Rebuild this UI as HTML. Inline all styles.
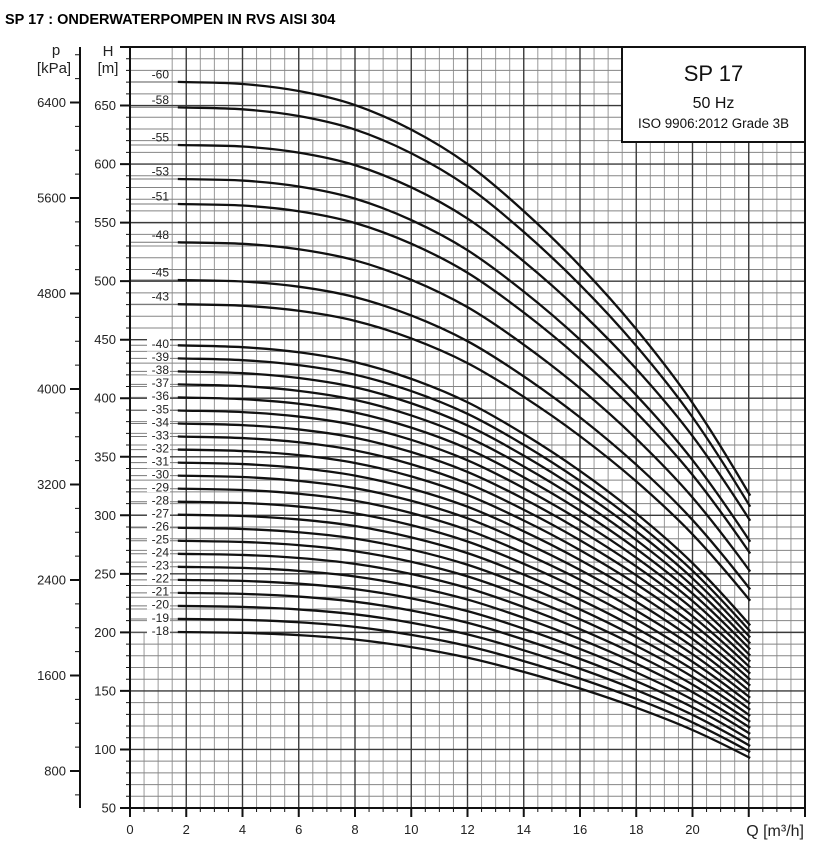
<!DOCTYPE html>
<html><head><meta charset="utf-8"><style>
html,body{margin:0;padding:0;background:#fff;}
svg{display:block;}
text{font-family:"Liberation Sans",Arial,sans-serif;}
</style></head><body>
<svg width="839" height="850" viewBox="0 0 839 850" xmlns="http://www.w3.org/2000/svg">
<rect width="839" height="850" fill="#fff"/>
<text x="5" y="24" font-size="14.5" font-weight="bold" fill="#000">SP 17 : ONDERWATERPOMPEN IN RVS AISI 304</text>

<!-- grid minor vertical -->
<path fill="none" stroke="#999" stroke-width="1" d="M172.19 47V808M200.31 47V808M214.38 47V808M228.44 47V808M256.56 47V808M270.63 47V808M284.69 47V808M312.81 47V808M326.88 47V808M340.94 47V808M369.06 47V808M383.13 47V808M397.19 47V808M425.31 47V808M439.38 47V808M453.44 47V808M481.56 47V808M495.63 47V808M509.69 47V808M537.81 47V808M551.88 47V808M565.94 47V808M594.06 47V808M608.13 47V808M622.19 47V808M650.31 47V808M664.38 47V808M678.44 47V808M706.56 47V808M720.63 47V808M734.69 47V808M762.81 47V808M776.88 47V808M790.94 47V808M144.06 632V808M158.13 632V808"/>
<!-- grid minor horizontal -->
<path fill="none" stroke="#858585" stroke-width="1" d="M130 796.29H805M130 784.58H805M130 772.88H805M130 761.17H805M130 737.75H805M130 726.05H805M130 714.34H805M130 702.63H805M130 679.22H805M130 667.51H805M130 655.8H805M130 644.09H805M130 620.68H805M130 608.97H805M130 597.26H805M130 585.55H805M130 562.14H805M130 550.43H805M130 538.72H805M130 527.02H805M130 503.6H805M130 491.89H805M130 480.18H805M130 468.48H805M130 445.06H805M130 433.35H805M130 421.65H805M130 409.94H805M130 386.52H805M130 374.82H805M130 363.11H805M130 351.4H805M130 327.99H805M130 316.28H805M130 304.57H805M130 292.86H805M130 269.45H805M130 257.74H805M130 246.03H805M130 234.32H805M130 210.91H805M130 199.2H805M130 187.49H805M130 175.79H805M130 152.37H805M130 140.66H805M130 128.96H805M130 117.25H805M130 93.83H805M130 82.12H805M130 70.42H805M130 58.71H805"/>
<!-- grid major -->
<path fill="none" stroke="#3a3a3a" stroke-width="1.4" d="M186.25 47V808M242.5 47V808M298.75 47V808M355 47V808M411.25 47V808M467.5 47V808M523.75 47V808M580 47V808M636.25 47V808M692.5 47V808M748.75 47V808M130 749.46H805M130 690.92H805M130 632.38H805M130 573.85H805M130 515.31H805M130 456.77H805M130 398.23H805M130 339.69H805M130 281.15H805M130 222.62H805M130 164.08H805M130 105.54H805"/>

<!-- leader lines -->
<path fill="none" stroke="#777" stroke-width="1" d="M130 81.9H178M130 107.3H178M130 145H178M130 179H178M130 204H178M130 242.3H178M130 280H178M130 304.2H178M130 345.3H178M130 358.4H178M130 371.4H178M130 384.4H178M130 397.4H178M130 410.5H178M130 423.5H178M130 436.5H178M130 449.6H178M130 462.6H178M130 475.6H178M130 488.7H178M130 501.7H178M130 514.7H178M130 527.8H178M130 540.8H178M130 553.8H178M130 566.8H178M130 579.9H178M130 592.9H178M130 605.9H178M130 619H178M130 632H178"/>

<!-- legend box -->
<rect x="622" y="47" width="183" height="95" fill="#fff" stroke="#111" stroke-width="2"/>
<text x="713.5" y="81" font-size="22" text-anchor="middle" fill="#111">SP 17</text>
<text x="713.5" y="108" font-size="16" text-anchor="middle" fill="#111">50 Hz</text>
<text x="713.5" y="128" font-size="13.4" text-anchor="middle" fill="#111">ISO 9906:2012 Grade 3B</text>

<!-- axes frame -->
<path fill="none" stroke="#111" stroke-width="2" d="M120 47H805V817M130 47V817M120 808H805M80 47V808"/>
<!-- H ticks -->
<path fill="none" stroke="#111" stroke-width="1" d="M126 796.29H130M126 784.58H130M126 772.88H130M126 761.17H130M126 737.75H130M126 726.05H130M126 714.34H130M126 702.63H130M126 679.22H130M126 667.51H130M126 655.8H130M126 644.09H130M126 620.68H130M126 608.97H130M126 597.26H130M126 585.55H130M126 562.14H130M126 550.43H130M126 538.72H130M126 527.02H130M126 503.6H130M126 491.89H130M126 480.18H130M126 468.48H130M126 445.06H130M126 433.35H130M126 421.65H130M126 409.94H130M126 386.52H130M126 374.82H130M126 363.11H130M126 351.4H130M126 327.99H130M126 316.28H130M126 304.57H130M126 292.86H130M126 269.45H130M126 257.74H130M126 246.03H130M126 234.32H130M126 210.91H130M126 199.2H130M126 187.49H130M126 175.79H130M126 152.37H130M126 140.66H130M126 128.96H130M126 117.25H130M126 93.83H130M126 82.12H130M126 70.42H130M126 58.71H130"/>
<path fill="none" stroke="#111" stroke-width="2" d="M120 808H130M120 749.46H130M120 690.92H130M120 632.38H130M120 573.85H130M120 515.31H130M120 456.77H130M120 398.23H130M120 339.69H130M120 281.15H130M120 222.62H130M120 164.08H130M120 105.54H130"/>
<!-- X ticks -->
<path fill="none" stroke="#111" stroke-width="1" d="M144.06 808V812M158.13 808V812M172.19 808V812M200.31 808V812M214.38 808V812M228.44 808V812M256.56 808V812M270.63 808V812M284.69 808V812M312.81 808V812M326.88 808V812M340.94 808V812M369.06 808V812M383.13 808V812M397.19 808V812M425.31 808V812M439.38 808V812M453.44 808V812M481.56 808V812M495.63 808V812M509.69 808V812M537.81 808V812M551.88 808V812M565.94 808V812M594.06 808V812M608.13 808V812M622.19 808V812M650.31 808V812M664.38 808V812M678.44 808V812M706.56 808V812M720.63 808V812M734.69 808V812M762.81 808V812M776.88 808V812M790.94 808V812"/>
<path fill="none" stroke="#111" stroke-width="2" d="M186.25 808V817M242.5 808V817M298.75 808V817M355 808V817M411.25 808V817M467.5 808V817M523.75 808V817M580 808V817M636.25 808V817M692.5 808V817M748.75 808V817"/>
<!-- p ticks -->
<path fill="none" stroke="#111" stroke-width="1" d="M75 794.91H80M75 747.16H80M75 723.28H80M75 699.4H80M75 651.65H80M75 627.77H80M75 603.9H80M75 556.14H80M75 532.27H80M75 508.39H80M75 460.64H80M75 436.76H80M75 412.88H80M75 365.13H80M75 341.25H80M75 317.38H80M75 269.62H80M75 245.75H80M75 221.87H80M75 174.12H80M75 150.24H80M75 126.36H80M75 78.61H80M75 54.73H80"/>
<path fill="none" stroke="#111" stroke-width="2" d="M70 771.03H80M70 675.53H80M70 580.02H80M70 484.51H80M70 389.01H80M70 293.5H80M70 197.99H80M70 102.49H80"/>

<!-- axis labels -->
<g font-size="15" fill="#222" text-anchor="middle">
<text x="56" y="55">p</text>
<text x="54" y="73">[kPa]</text>
<text x="108" y="56">H</text>
<text x="108" y="73">[m]</text>
</g>
<g font-size="13" fill="#222" text-anchor="end">
<text x="66" y="775.5">800</text>
<text x="66" y="680">1600</text>
<text x="66" y="584.5">2400</text>
<text x="66" y="489">3200</text>
<text x="66" y="393.5">4000</text>
<text x="66" y="298">4800</text>
<text x="66" y="202.5">5600</text>
<text x="66" y="107">6400</text>
<text x="116" y="812.5">50</text>
<text x="116" y="754">100</text>
<text x="116" y="695.4">150</text>
<text x="116" y="636.9">200</text>
<text x="116" y="578.3">250</text>
<text x="116" y="519.8">300</text>
<text x="116" y="461.3">350</text>
<text x="116" y="402.7">400</text>
<text x="116" y="344.2">450</text>
<text x="116" y="285.6">500</text>
<text x="116" y="227.1">550</text>
<text x="116" y="168.6">600</text>
<text x="116" y="110">650</text>
</g>
<g font-size="13" fill="#222" text-anchor="middle">
<text x="130" y="834">0</text>
<text x="186.25" y="834">2</text>
<text x="242.5" y="834">4</text>
<text x="298.75" y="834">6</text>
<text x="355" y="834">8</text>
<text x="411.25" y="834">10</text>
<text x="467.5" y="834">12</text>
<text x="523.75" y="834">14</text>
<text x="580" y="834">16</text>
<text x="636.25" y="834">18</text>
<text x="692.5" y="834">20</text>
</g>
<text x="804" y="836" font-size="16" fill="#222" text-anchor="end">Q [m³/h]</text>

<!-- dense label backgrounds -->
<g fill="#fff">
<rect x="147" y="338.3" width="23" height="10.5"/><rect x="147" y="351.4" width="23" height="10.5"/><rect x="147" y="364.4" width="23" height="10.5"/><rect x="147" y="377.4" width="23" height="10.5"/><rect x="147" y="390.4" width="23" height="10.5"/><rect x="147" y="403.5" width="23" height="10.5"/><rect x="147" y="416.5" width="23" height="10.5"/><rect x="147" y="429.5" width="23" height="10.5"/><rect x="147" y="442.6" width="23" height="10.5"/><rect x="147" y="455.6" width="23" height="10.5"/><rect x="147" y="468.6" width="23" height="10.5"/><rect x="147" y="481.7" width="23" height="10.5"/><rect x="147" y="494.7" width="23" height="10.5"/><rect x="147" y="507.7" width="23" height="10.5"/><rect x="147" y="520.8" width="23" height="10.5"/><rect x="147" y="533.8" width="23" height="10.5"/><rect x="147" y="546.8" width="23" height="10.5"/><rect x="147" y="559.8" width="23" height="10.5"/><rect x="147" y="572.9" width="23" height="10.5"/><rect x="147" y="585.9" width="23" height="10.5"/><rect x="147" y="598.9" width="23" height="10.5"/><rect x="147" y="612" width="23" height="10.5"/><rect x="147" y="625" width="23" height="10.5"/>
</g>
<!-- stage labels -->
<g font-size="12" fill="#222" text-anchor="end">
<text x="169" y="78.4">-60</text>
<text x="169" y="103.8">-58</text>
<text x="169" y="141.5">-55</text>
<text x="169" y="175.5">-53</text>
<text x="169" y="200.5">-51</text>
<text x="169" y="238.8">-48</text>
<text x="169" y="276.5">-45</text>
<text x="169" y="300.7">-43</text>
<text x="169" y="348.1">-40</text>
<text x="169" y="361.2">-39</text>
<text x="169" y="374.2">-38</text>
<text x="169" y="387.2">-37</text>
<text x="169" y="400.2">-36</text>
<text x="169" y="413.3">-35</text>
<text x="169" y="426.3">-34</text>
<text x="169" y="439.3">-33</text>
<text x="169" y="452.4">-32</text>
<text x="169" y="465.4">-31</text>
<text x="169" y="478.4">-30</text>
<text x="169" y="491.5">-29</text>
<text x="169" y="504.5">-28</text>
<text x="169" y="517.5">-27</text>
<text x="169" y="530.6">-26</text>
<text x="169" y="543.6">-25</text>
<text x="169" y="556.6">-24</text>
<text x="169" y="569.6">-23</text>
<text x="169" y="582.7">-22</text>
<text x="169" y="595.7">-21</text>
<text x="169" y="608.7">-20</text>
<text x="169" y="621.8">-19</text>
<text x="169" y="634.8">-18</text>
</g>

<!-- curves -->
<g fill="none" stroke="#111" stroke-width="2.3" stroke-linecap="butt">
<path vector-effect="non-scaling-stroke" transform="matrix(1,0,0,-70.246,0,866.54)" d="M177.8 11.17C199.37 11.16 222.34 11.162 242.5 11.14C262.66 11.118 280 11.09 298.75 11.04C317.5 10.99 336.25 10.932 355 10.84C373.75 10.748 392.5 10.63 411.25 10.49C430 10.35 448.75 10.193 467.5 10C486.25 9.807 505 9.572 523.75 9.33C542.5 9.088 561.25 8.83 580 8.55C598.75 8.27 617.5 7.975 636.25 7.65C655 7.325 673.51 6.995 692.5 6.6C711.49 6.205 730.97 5.747 750.2 5.28"/>
<path vector-effect="non-scaling-stroke" transform="matrix(1,-0.001048,0,-67.905,0,866.03)" d="M177.8 11.17C199.37 11.16 222.34 11.162 242.5 11.14C262.66 11.118 280 11.09 298.75 11.04C317.5 10.99 336.25 10.932 355 10.84C373.75 10.748 392.5 10.63 411.25 10.49C430 10.35 448.75 10.193 467.5 10C486.25 9.807 505 9.572 523.75 9.33C542.5 9.088 561.25 8.83 580 8.55C598.75 8.27 617.5 7.975 636.25 7.65C655 7.325 673.51 6.995 692.5 6.6C711.49 6.205 730.97 5.747 750.2 5.28"/>
<path vector-effect="non-scaling-stroke" transform="matrix(1,-0.006115,0,-64.392,0,865.33)" d="M177.8 11.17C199.37 11.16 222.34 11.162 242.5 11.14C262.66 11.118 280 11.09 298.75 11.04C317.5 10.99 336.25 10.932 355 10.84C373.75 10.748 392.5 10.63 411.25 10.49C430 10.35 448.75 10.193 467.5 10C486.25 9.807 505 9.572 523.75 9.33C542.5 9.088 561.25 8.83 580 8.55C598.75 8.27 617.5 7.975 636.25 7.65C655 7.325 673.51 6.995 692.5 6.6C711.49 6.205 730.97 5.747 750.2 5.28"/>
<path vector-effect="non-scaling-stroke" transform="matrix(1,-0.004892,0,-62.051,0,873.01)" d="M177.8 11.17C199.37 11.16 222.34 11.162 242.5 11.14C262.66 11.118 280 11.09 298.75 11.04C317.5 10.99 336.25 10.932 355 10.84C373.75 10.748 392.5 10.63 411.25 10.49C430 10.35 448.75 10.193 467.5 10C486.25 9.807 505 9.572 523.75 9.33C542.5 9.088 561.25 8.83 580 8.55C598.75 8.27 617.5 7.975 636.25 7.65C655 7.325 673.51 6.995 692.5 6.6C711.49 6.205 730.97 5.747 750.2 5.28"/>
<path vector-effect="non-scaling-stroke" transform="matrix(1,-0.003843,0,-59.709,0,871.62)" d="M177.8 11.17C199.37 11.16 222.34 11.162 242.5 11.14C262.66 11.118 280 11.09 298.75 11.04C317.5 10.99 336.25 10.932 355 10.84C373.75 10.748 392.5 10.63 411.25 10.49C430 10.35 448.75 10.193 467.5 10C486.25 9.807 505 9.572 523.75 9.33C542.5 9.088 561.25 8.83 580 8.55C598.75 8.27 617.5 7.975 636.25 7.65C655 7.325 673.51 6.995 692.5 6.6C711.49 6.205 730.97 5.747 750.2 5.28"/>
<path vector-effect="non-scaling-stroke" transform="matrix(1,-0.003145,0,-56.197,0,870.6)" d="M177.8 11.17C199.37 11.16 222.34 11.162 242.5 11.14C262.66 11.118 280 11.09 298.75 11.04C317.5 10.99 336.25 10.932 355 10.84C373.75 10.748 392.5 10.63 411.25 10.49C430 10.35 448.75 10.193 467.5 10C486.25 9.807 505 9.572 523.75 9.33C542.5 9.088 561.25 8.83 580 8.55C598.75 8.27 617.5 7.975 636.25 7.65C655 7.325 673.51 6.995 692.5 6.6C711.49 6.205 730.97 5.747 750.2 5.28"/>
<path vector-effect="non-scaling-stroke" transform="matrix(1,-0.001747,0,-52.685,0,868.85)" d="M177.8 11.17C199.37 11.16 222.34 11.162 242.5 11.14C262.66 11.118 280 11.09 298.75 11.04C317.5 10.99 336.25 10.932 355 10.84C373.75 10.748 392.5 10.63 411.25 10.49C430 10.35 448.75 10.193 467.5 10C486.25 9.807 505 9.572 523.75 9.33C542.5 9.088 561.25 8.83 580 8.55C598.75 8.27 617.5 7.975 636.25 7.65C655 7.325 673.51 6.995 692.5 6.6C711.49 6.205 730.97 5.747 750.2 5.28"/>
<path vector-effect="non-scaling-stroke" transform="matrix(1,0,0,-50.343,0,866.54)" d="M177.8 11.17C199.37 11.16 222.34 11.162 242.5 11.14C262.66 11.118 280 11.09 298.75 11.04C317.5 10.99 336.25 10.932 355 10.84C373.75 10.748 392.5 10.63 411.25 10.49C430 10.35 448.75 10.193 467.5 10C486.25 9.807 505 9.572 523.75 9.33C542.5 9.088 561.25 8.83 580 8.55C598.75 8.27 617.5 7.975 636.25 7.65C655 7.325 673.51 6.995 692.5 6.6C711.49 6.205 730.97 5.747 750.2 5.28"/>
<path vector-effect="non-scaling-stroke" transform="matrix(1,0.007362,0,-46.831,0,867.104)" d="M177.8 11.17C199.37 11.16 222.34 11.162 242.5 11.14C262.66 11.118 280 11.09 298.75 11.04C317.5 10.99 336.25 10.932 355 10.84C373.75 10.748 392.5 10.63 411.25 10.49C430 10.35 448.75 10.193 467.5 10C486.25 9.807 505 9.572 523.75 9.33C542.5 9.088 561.25 8.83 580 8.55C598.75 8.27 617.5 7.975 636.25 7.65C655 7.325 673.51 6.995 692.5 6.6C711.49 6.205 730.97 5.747 750.2 5.28"/>
<path vector-effect="non-scaling-stroke" transform="matrix(1,0.007178,0,-45.66,0,867.09)" d="M177.8 11.17C199.37 11.16 222.34 11.162 242.5 11.14C262.66 11.118 280 11.09 298.75 11.04C317.5 10.99 336.25 10.932 355 10.84C373.75 10.748 392.5 10.63 411.25 10.49C430 10.35 448.75 10.193 467.5 10C486.25 9.807 505 9.572 523.75 9.33C542.5 9.088 561.25 8.83 580 8.55C598.75 8.27 617.5 7.975 636.25 7.65C655 7.325 673.51 6.995 692.5 6.6C711.49 6.205 730.97 5.747 750.2 5.28"/>
<path vector-effect="non-scaling-stroke" transform="matrix(1,0.006994,0,-44.489,0,867.076)" d="M177.8 11.17C199.37 11.16 222.34 11.162 242.5 11.14C262.66 11.118 280 11.09 298.75 11.04C317.5 10.99 336.25 10.932 355 10.84C373.75 10.748 392.5 10.63 411.25 10.49C430 10.35 448.75 10.193 467.5 10C486.25 9.807 505 9.572 523.75 9.33C542.5 9.088 561.25 8.83 580 8.55C598.75 8.27 617.5 7.975 636.25 7.65C655 7.325 673.51 6.995 692.5 6.6C711.49 6.205 730.97 5.747 750.2 5.28"/>
<path vector-effect="non-scaling-stroke" transform="matrix(1,0.00681,0,-43.318,0,867.062)" d="M177.8 11.17C199.37 11.16 222.34 11.162 242.5 11.14C262.66 11.118 280 11.09 298.75 11.04C317.5 10.99 336.25 10.932 355 10.84C373.75 10.748 392.5 10.63 411.25 10.49C430 10.35 448.75 10.193 467.5 10C486.25 9.807 505 9.572 523.75 9.33C542.5 9.088 561.25 8.83 580 8.55C598.75 8.27 617.5 7.975 636.25 7.65C655 7.325 673.51 6.995 692.5 6.6C711.49 6.205 730.97 5.747 750.2 5.28"/>
<path vector-effect="non-scaling-stroke" transform="matrix(1,0.006626,0,-42.148,0,867.047)" d="M177.8 11.17C199.37 11.16 222.34 11.162 242.5 11.14C262.66 11.118 280 11.09 298.75 11.04C317.5 10.99 336.25 10.932 355 10.84C373.75 10.748 392.5 10.63 411.25 10.49C430 10.35 448.75 10.193 467.5 10C486.25 9.807 505 9.572 523.75 9.33C542.5 9.088 561.25 8.83 580 8.55C598.75 8.27 617.5 7.975 636.25 7.65C655 7.325 673.51 6.995 692.5 6.6C711.49 6.205 730.97 5.747 750.2 5.28"/>
<path vector-effect="non-scaling-stroke" transform="matrix(1,0.006442,0,-40.977,0,867.033)" d="M177.8 11.17C199.37 11.16 222.34 11.162 242.5 11.14C262.66 11.118 280 11.09 298.75 11.04C317.5 10.99 336.25 10.932 355 10.84C373.75 10.748 392.5 10.63 411.25 10.49C430 10.35 448.75 10.193 467.5 10C486.25 9.807 505 9.572 523.75 9.33C542.5 9.088 561.25 8.83 580 8.55C598.75 8.27 617.5 7.975 636.25 7.65C655 7.325 673.51 6.995 692.5 6.6C711.49 6.205 730.97 5.747 750.2 5.28"/>
<path vector-effect="non-scaling-stroke" transform="matrix(1,0.006257,0,-39.806,0,867.019)" d="M177.8 11.17C199.37 11.16 222.34 11.162 242.5 11.14C262.66 11.118 280 11.09 298.75 11.04C317.5 10.99 336.25 10.932 355 10.84C373.75 10.748 392.5 10.63 411.25 10.49C430 10.35 448.75 10.193 467.5 10C486.25 9.807 505 9.572 523.75 9.33C542.5 9.088 561.25 8.83 580 8.55C598.75 8.27 617.5 7.975 636.25 7.65C655 7.325 673.51 6.995 692.5 6.6C711.49 6.205 730.97 5.747 750.2 5.28"/>
<path vector-effect="non-scaling-stroke" transform="matrix(1,0.006073,0,-38.635,0,867.005)" d="M177.8 11.17C199.37 11.16 222.34 11.162 242.5 11.14C262.66 11.118 280 11.09 298.75 11.04C317.5 10.99 336.25 10.932 355 10.84C373.75 10.748 392.5 10.63 411.25 10.49C430 10.35 448.75 10.193 467.5 10C486.25 9.807 505 9.572 523.75 9.33C542.5 9.088 561.25 8.83 580 8.55C598.75 8.27 617.5 7.975 636.25 7.65C655 7.325 673.51 6.995 692.5 6.6C711.49 6.205 730.97 5.747 750.2 5.28"/>
<path vector-effect="non-scaling-stroke" transform="matrix(1,0.005889,0,-37.465,0,866.991)" d="M177.8 11.17C199.37 11.16 222.34 11.162 242.5 11.14C262.66 11.118 280 11.09 298.75 11.04C317.5 10.99 336.25 10.932 355 10.84C373.75 10.748 392.5 10.63 411.25 10.49C430 10.35 448.75 10.193 467.5 10C486.25 9.807 505 9.572 523.75 9.33C542.5 9.088 561.25 8.83 580 8.55C598.75 8.27 617.5 7.975 636.25 7.65C655 7.325 673.51 6.995 692.5 6.6C711.49 6.205 730.97 5.747 750.2 5.28"/>
<path vector-effect="non-scaling-stroke" transform="matrix(1,0.005705,0,-36.294,0,866.977)" d="M177.8 11.17C199.37 11.16 222.34 11.162 242.5 11.14C262.66 11.118 280 11.09 298.75 11.04C317.5 10.99 336.25 10.932 355 10.84C373.75 10.748 392.5 10.63 411.25 10.49C430 10.35 448.75 10.193 467.5 10C486.25 9.807 505 9.572 523.75 9.33C542.5 9.088 561.25 8.83 580 8.55C598.75 8.27 617.5 7.975 636.25 7.65C655 7.325 673.51 6.995 692.5 6.6C711.49 6.205 730.97 5.747 750.2 5.28"/>
<path vector-effect="non-scaling-stroke" transform="matrix(1,0.005521,0,-35.123,0,866.963)" d="M177.8 11.17C199.37 11.16 222.34 11.162 242.5 11.14C262.66 11.118 280 11.09 298.75 11.04C317.5 10.99 336.25 10.932 355 10.84C373.75 10.748 392.5 10.63 411.25 10.49C430 10.35 448.75 10.193 467.5 10C486.25 9.807 505 9.572 523.75 9.33C542.5 9.088 561.25 8.83 580 8.55C598.75 8.27 617.5 7.975 636.25 7.65C655 7.325 673.51 6.995 692.5 6.6C711.49 6.205 730.97 5.747 750.2 5.28"/>
<path vector-effect="non-scaling-stroke" transform="matrix(1,0.005337,0,-33.952,0,866.949)" d="M177.8 11.17C199.37 11.16 222.34 11.162 242.5 11.14C262.66 11.118 280 11.09 298.75 11.04C317.5 10.99 336.25 10.932 355 10.84C373.75 10.748 392.5 10.63 411.25 10.49C430 10.35 448.75 10.193 467.5 10C486.25 9.807 505 9.572 523.75 9.33C542.5 9.088 561.25 8.83 580 8.55C598.75 8.27 617.5 7.975 636.25 7.65C655 7.325 673.51 6.995 692.5 6.6C711.49 6.205 730.97 5.747 750.2 5.28"/>
<path vector-effect="non-scaling-stroke" transform="matrix(1,0.005153,0,-32.782,0,866.935)" d="M177.8 11.17C199.37 11.16 222.34 11.162 242.5 11.14C262.66 11.118 280 11.09 298.75 11.04C317.5 10.99 336.25 10.932 355 10.84C373.75 10.748 392.5 10.63 411.25 10.49C430 10.35 448.75 10.193 467.5 10C486.25 9.807 505 9.572 523.75 9.33C542.5 9.088 561.25 8.83 580 8.55C598.75 8.27 617.5 7.975 636.25 7.65C655 7.325 673.51 6.995 692.5 6.6C711.49 6.205 730.97 5.747 750.2 5.28"/>
<path vector-effect="non-scaling-stroke" transform="matrix(1,0.004969,0,-31.611,0,866.921)" d="M177.8 11.17C199.37 11.16 222.34 11.162 242.5 11.14C262.66 11.118 280 11.09 298.75 11.04C317.5 10.99 336.25 10.932 355 10.84C373.75 10.748 392.5 10.63 411.25 10.49C430 10.35 448.75 10.193 467.5 10C486.25 9.807 505 9.572 523.75 9.33C542.5 9.088 561.25 8.83 580 8.55C598.75 8.27 617.5 7.975 636.25 7.65C655 7.325 673.51 6.995 692.5 6.6C711.49 6.205 730.97 5.747 750.2 5.28"/>
<path vector-effect="non-scaling-stroke" transform="matrix(1,0.004785,0,-30.44,0,866.906)" d="M177.8 11.17C199.37 11.16 222.34 11.162 242.5 11.14C262.66 11.118 280 11.09 298.75 11.04C317.5 10.99 336.25 10.932 355 10.84C373.75 10.748 392.5 10.63 411.25 10.49C430 10.35 448.75 10.193 467.5 10C486.25 9.807 505 9.572 523.75 9.33C542.5 9.088 561.25 8.83 580 8.55C598.75 8.27 617.5 7.975 636.25 7.65C655 7.325 673.51 6.995 692.5 6.6C711.49 6.205 730.97 5.747 750.2 5.28"/>
<path vector-effect="non-scaling-stroke" transform="matrix(1,0.004601,0,-29.269,0,866.892)" d="M177.8 11.17C199.37 11.16 222.34 11.162 242.5 11.14C262.66 11.118 280 11.09 298.75 11.04C317.5 10.99 336.25 10.932 355 10.84C373.75 10.748 392.5 10.63 411.25 10.49C430 10.35 448.75 10.193 467.5 10C486.25 9.807 505 9.572 523.75 9.33C542.5 9.088 561.25 8.83 580 8.55C598.75 8.27 617.5 7.975 636.25 7.65C655 7.325 673.51 6.995 692.5 6.6C711.49 6.205 730.97 5.747 750.2 5.28"/>
<path vector-effect="non-scaling-stroke" transform="matrix(1,0.004417,0,-28.098,0,866.878)" d="M177.8 11.17C199.37 11.16 222.34 11.162 242.5 11.14C262.66 11.118 280 11.09 298.75 11.04C317.5 10.99 336.25 10.932 355 10.84C373.75 10.748 392.5 10.63 411.25 10.49C430 10.35 448.75 10.193 467.5 10C486.25 9.807 505 9.572 523.75 9.33C542.5 9.088 561.25 8.83 580 8.55C598.75 8.27 617.5 7.975 636.25 7.65C655 7.325 673.51 6.995 692.5 6.6C711.49 6.205 730.97 5.747 750.2 5.28"/>
<path vector-effect="non-scaling-stroke" transform="matrix(1,0.004233,0,-26.928,0,866.864)" d="M177.8 11.17C199.37 11.16 222.34 11.162 242.5 11.14C262.66 11.118 280 11.09 298.75 11.04C317.5 10.99 336.25 10.932 355 10.84C373.75 10.748 392.5 10.63 411.25 10.49C430 10.35 448.75 10.193 467.5 10C486.25 9.807 505 9.572 523.75 9.33C542.5 9.088 561.25 8.83 580 8.55C598.75 8.27 617.5 7.975 636.25 7.65C655 7.325 673.51 6.995 692.5 6.6C711.49 6.205 730.97 5.747 750.2 5.28"/>
<path vector-effect="non-scaling-stroke" transform="matrix(1,0.004049,0,-25.757,0,866.85)" d="M177.8 11.17C199.37 11.16 222.34 11.162 242.5 11.14C262.66 11.118 280 11.09 298.75 11.04C317.5 10.99 336.25 10.932 355 10.84C373.75 10.748 392.5 10.63 411.25 10.49C430 10.35 448.75 10.193 467.5 10C486.25 9.807 505 9.572 523.75 9.33C542.5 9.088 561.25 8.83 580 8.55C598.75 8.27 617.5 7.975 636.25 7.65C655 7.325 673.51 6.995 692.5 6.6C711.49 6.205 730.97 5.747 750.2 5.28"/>
<path vector-effect="non-scaling-stroke" transform="matrix(1,0.003865,0,-24.586,0,866.836)" d="M177.8 11.17C199.37 11.16 222.34 11.162 242.5 11.14C262.66 11.118 280 11.09 298.75 11.04C317.5 10.99 336.25 10.932 355 10.84C373.75 10.748 392.5 10.63 411.25 10.49C430 10.35 448.75 10.193 467.5 10C486.25 9.807 505 9.572 523.75 9.33C542.5 9.088 561.25 8.83 580 8.55C598.75 8.27 617.5 7.975 636.25 7.65C655 7.325 673.51 6.995 692.5 6.6C711.49 6.205 730.97 5.747 750.2 5.28"/>
<path vector-effect="non-scaling-stroke" transform="matrix(1,0.003681,0,-23.415,0,866.822)" d="M177.8 11.17C199.37 11.16 222.34 11.162 242.5 11.14C262.66 11.118 280 11.09 298.75 11.04C317.5 10.99 336.25 10.932 355 10.84C373.75 10.748 392.5 10.63 411.25 10.49C430 10.35 448.75 10.193 467.5 10C486.25 9.807 505 9.572 523.75 9.33C542.5 9.088 561.25 8.83 580 8.55C598.75 8.27 617.5 7.975 636.25 7.65C655 7.325 673.51 6.995 692.5 6.6C711.49 6.205 730.97 5.747 750.2 5.28"/>
<path vector-effect="non-scaling-stroke" transform="matrix(1,0.003497,0,-22.245,0,866.808)" d="M177.8 11.17C199.37 11.16 222.34 11.162 242.5 11.14C262.66 11.118 280 11.09 298.75 11.04C317.5 10.99 336.25 10.932 355 10.84C373.75 10.748 392.5 10.63 411.25 10.49C430 10.35 448.75 10.193 467.5 10C486.25 9.807 505 9.572 523.75 9.33C542.5 9.088 561.25 8.83 580 8.55C598.75 8.27 617.5 7.975 636.25 7.65C655 7.325 673.51 6.995 692.5 6.6C711.49 6.205 730.97 5.747 750.2 5.28"/>
<path vector-effect="non-scaling-stroke" transform="matrix(1,0.003313,0,-21.074,0,866.794)" d="M177.8 11.17C199.37 11.16 222.34 11.162 242.5 11.14C262.66 11.118 280 11.09 298.75 11.04C317.5 10.99 336.25 10.932 355 10.84C373.75 10.748 392.5 10.63 411.25 10.49C430 10.35 448.75 10.193 467.5 10C486.25 9.807 505 9.572 523.75 9.33C542.5 9.088 561.25 8.83 580 8.55C598.75 8.27 617.5 7.975 636.25 7.65C655 7.325 673.51 6.995 692.5 6.6C711.49 6.205 730.97 5.747 750.2 5.28"/>
</g>
</svg>
</body></html>
